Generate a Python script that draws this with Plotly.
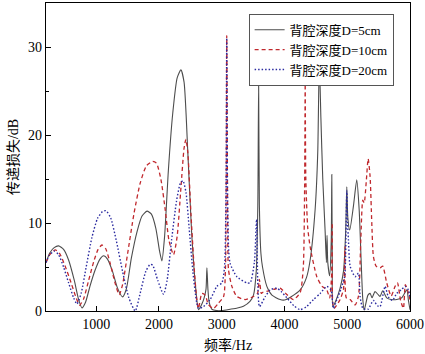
import plotly.graph_objects as go

# D = 5 cm (solid)
f5 = [200, 260, 330, 400, 480, 560, 650, 720, 773, 830, 900, 980, 1060, 1117, 1180, 1260, 1340, 1420,
      1480, 1560, 1650, 1730, 1810, 1880, 1950, 2010, 2047, 2090, 2150, 2220, 2290, 2350, 2400, 2460,
      2520, 2580, 2630, 2684, 2720, 2750, 2764, 2780, 2800, 2843, 2920, 3003, 3134, 3250, 3346, 3450,
      3506, 3550, 3575, 3588, 3600, 3625, 3650, 3719, 3800, 3931, 4000, 4100, 4250, 4350, 4409, 4488,
      4530, 4555, 4580, 4610, 4648, 4668, 4678, 4690, 4720, 4745, 4754, 4762, 4770, 4820, 4886, 4940,
      4975, 4993, 5010, 5040, 5100, 5152, 5190, 5220, 5248, 5270, 5330, 5364, 5395, 5443, 5500, 5523,
      5565, 5629, 5700, 5789, 5869, 5949, 5975, 6000]
v5 = [5.5, 6.6, 7.2, 7.4, 7.0, 5.8, 3.5, 1.3, 0.35, 1.0, 2.8, 4.6, 5.9, 6.27, 5.9, 4.5, 2.6, 1.6,
      2.5, 6.0, 9.0, 10.8, 11.35, 11.0, 9.4, 6.8, 5.7, 8.5, 16, 22.5, 26.5, 27.4, 26, 18,
      9, 3, 0.15, 0.8, 1.5, 2.5, 4.9, 2.5, 1.0, 0.2, 0.05, 0.05, 0.2, 0.35, 0.55, 1.1,
      1.8, 4.5, 12, 26, 12, 6.5, 5.0, 2.8, 1.8, 1.3, 1.25, 1.6, 2.4, 3.8, 5.8, 11.5,
      18, 28.5, 22, 15, 9.0, 5.5, 8.6, 5.5, 4.0, 8, 15.5, 5, 0.5, 1.2, 2.6, 4.5,
      9, 14.1, 10.5, 9.2, 12, 14.9, 11.5, 6, 1.3, 0.1, 1.8, 2.0, 1.5, 2.2, 1.8, 1.65,
      2.3, 1.5, 1.3, 1.3, 1.5, 2.4, 1.2, 0.15]

# D = 10 cm (dashed)
f10 = [200, 260, 348, 420, 500, 600, 680, 735, 800, 880, 960, 1030, 1091, 1150, 1220, 1300, 1367, 1420,
       1500, 1600, 1700, 1800, 1900, 1960, 2030, 2100, 2160, 2232, 2290, 2350, 2400, 2429, 2460, 2510,
       2560, 2600, 2630, 2684, 2737, 2790, 2870, 2949, 3030, 3060, 3080, 3095, 3108, 3162, 3241, 3374,
       3506, 3570, 3600, 3630, 3650, 3750, 3850, 3931, 4020, 4143, 4250, 4300, 4322, 4330, 4340, 4370,
       4409, 4515, 4600, 4674, 4720, 4750, 4760, 4768, 4790, 4886, 4940, 4966, 4985, 5046, 5126, 5178,
       5216, 5248, 5270, 5305, 5333, 5364, 5391, 5417, 5460, 5523, 5565, 5629, 5700, 5762, 5800, 5850,
       5895, 5926, 5960, 6000]
v10 = [5.5, 6.4, 6.95, 6.5, 5.2, 3.2, 1.5, 0.65, 1.4, 3.5, 5.6, 7.0, 7.5, 7.1, 5.5, 3.2, 1.85, 3.0,
       6.5, 11.0, 14.5, 16.5, 17.0, 16.8, 15, 11.5, 8, 6.4, 8.5, 14, 18.5, 19.5, 18, 11,
       5, 1.5, 0.3, 2.0, 1.8, 0.7, 0.3, 0.9, 1.65, 5, 31.3, 10, 4.7, 2.8, 1.65, 1.3,
       1.65, 2.0, 3.6, 2.0, 2.1, 2.3, 2.5, 2.6, 2.0, 1.3, 2.1, 5, 15, 25.8, 15, 9.5,
       7.3, 3.9, 2.8, 2.4, 1.5, 4, 10, 1, 0.3, 1.3, 2.5, 7.3, 1.5, 1.3, 0.7, 1.65,
       8.1, 12.6, 12.3, 14.9, 17.3, 15.3, 10, 6.2, 5.1, 4.9, 5.1, 3.2, 1.7, 2.8, 3.2, 1.2,
       0.3, 3.0, 2.4, 1.3]

# D = 20 cm (dotted)
f20 = [200, 250, 330, 400, 480, 560, 640, 693, 760, 840, 930, 1020, 1100, 1155, 1230, 1320, 1420, 1520,
       1622, 1700, 1790, 1860, 1900, 1980, 2073, 2130, 2200, 2280, 2340, 2382, 2430, 2480, 2540, 2600,
       2630, 2710, 2816, 2923, 3003, 3045, 3070, 3080, 3090, 3110, 3134, 3241, 3400, 3453, 3520, 3555,
       3575, 3602, 3690, 3772, 3878, 3950, 4050, 4150, 4250, 4350, 4462, 4570, 4674, 4740, 4754, 4780,
       4830, 4900, 4960, 4980, 4993, 5005, 5019, 5046, 5126, 5178, 5205, 5250, 5330, 5417, 5480, 5523,
       5603, 5655, 5720, 5788, 5860, 5921, 5974, 6000]
v20 = [5.5, 6.3, 6.8, 6.4, 5.0, 3.2, 1.5, 0.8, 2.0, 5.0, 8.3, 10.5, 11.3, 11.4, 10.6, 8.0, 4.5, 1.5,
       0.0, 2.0, 4.5, 5.3, 5.2, 3.5, 1.9, 3.5, 8, 12.5, 14.5, 14.8, 13.5, 9.5, 4.5, 1.0,
       0.3, 0.5, 1.3, 2.8, 3.2, 5, 15, 31.0, 15, 7, 5.4, 3.9, 3.2, 3.2, 5.5, 10.4,
       3, 0.5, 1.6, 2.4, 2.6, 2.2, 1.4, 0.6, 0.15, 0.5, 1.3, 2.0, 2.8, 2.4, 2.0, 0.3,
       1.2, 2.5, 4, 9, 13.7, 10, 8.1, 5.1, 3.9, 4.3, 1.6, 0.3, 0.2, 1.2, 0.6, 0.5,
       2.8, 1.6, 1.2, 2.0, 2.4, 2.8, 2.4, 1.5]

names = ["背腔深度D=5cm", "背腔深度D=10cm", "背腔深度D=20cm"]
x_ticks = [1000, 2000, 3000, 4000, 5000, 6000]
y_ticks = [0, 10, 20, 30]

FONT = "Liberation Serif, Noto Sans CJK SC, serif"

fig = go.Figure()
fig.add_trace(go.Scatter(x=f5, y=v5, mode="lines", name=names[0],
                         line=dict(color="#4d4d4d", width=1.1, shape="spline", smoothing=0.6)))
fig.add_trace(go.Scatter(x=f10, y=v10, mode="lines", name=names[1],
                         line=dict(color="#c0282d", width=1.3, dash="4px,3px", shape="spline", smoothing=0.6)))
fig.add_trace(go.Scatter(x=f20, y=v20, mode="lines", name=names[2],
                         line=dict(color="#2b2ba0", width=1.4, dash="1.5px,2px", shape="spline", smoothing=0.6)))

axis_common = dict(showline=True, mirror=True, linecolor="black", linewidth=1.3,
                   ticks="inside", ticklen=5, tickwidth=1.2, tickcolor="black",
                   showgrid=False, zeroline=False, automargin=False,
                   tickfont=dict(family=FONT, size=14, color="black"))

fig.update_xaxes(range=[200, 6000], tickvals=x_ticks,
                 title=dict(text="频率/Hz", font=dict(family=FONT, size=14, color="black"), standoff=9),
                 **axis_common)
fig.update_yaxes(range=[0, 35], tickvals=y_ticks,
                 minor=dict(tickvals=[5, 15, 25], ticks="inside", ticklen=3, tickcolor="black"),
                 title=dict(text="传递损失/dB", font=dict(family=FONT, size=14, color="black"), standoff=6),
                 **axis_common)

fig.update_layout(
    width=425, height=354,
    margin=dict(l=46, r=15, t=3, b=43),
    paper_bgcolor="white", plot_bgcolor="white",
    showlegend=True,
    legend=dict(x=0.955, y=0.965, xanchor="right", yanchor="top",
                bgcolor="white", bordercolor="#555555", borderwidth=1,
                font=dict(family=FONT, size=13, color="black"),
                tracegroupgap=0, itemwidth=30),
)

fig.write_html("out.html", config={"displayModeBar": False},
               post_script="document.body.style.margin='0px';document.body.style.overflow='hidden';")
